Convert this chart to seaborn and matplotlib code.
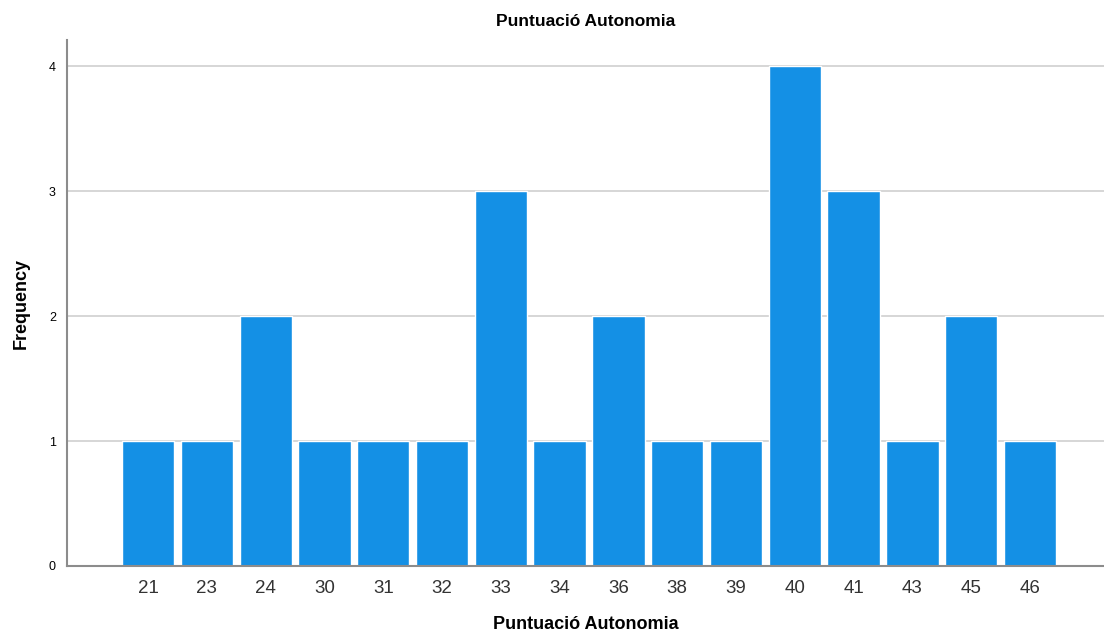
import matplotlib.pyplot as plt
import seaborn as sns
import pandas as pd

scores = ["21", "23", "24", "30", "31", "32", "33", "34", "36", "38", "39", "40", "41", "43", "45", "46"]
freqs = [1, 1, 2, 1, 1, 1, 3, 1, 2, 1, 1, 4, 3, 1, 2, 1]
y_ticks = [0, 1, 2, 3, 4]

sns.set_style("white")
plt.rcParams["font.family"] = ["Liberation Sans", "DejaVu Sans"]
plt.rcParams["text.color"] = "black"
plt.rcParams["axes.labelcolor"] = "black"

df = pd.DataFrame({"score": scores, "freq": freqs})

fig = plt.figure(figsize=(11.04, 6.38), dpi=100)
ax = fig.add_axes([0.0607, 0.1129, 0.9393, 0.8241])

sns.barplot(data=df, x="score", y="freq", order=scores, color="#1490e5",
            saturation=1, width=0.89, edgecolor="white", linewidth=1, ax=ax, zorder=2)

ax.set_xlim(-1.38, 16.26)
ax.set_ylim(0, 4.21)
ax.set_yticks(y_ticks)
ax.yaxis.grid(True, color="#cfcfcf", linewidth=1.2, zorder=0)
ax.set_axisbelow(True)

for side in ["top", "right"]:
    ax.spines[side].set_visible(False)
for side in ["left", "bottom"]:
    ax.spines[side].set_color("#8c8c8c")
    ax.spines[side].set_linewidth(1.5)

ax.tick_params(axis="y", length=0, labelsize=9, labelcolor="black", pad=8)
ax.tick_params(axis="x", length=0, labelsize=13.5, labelcolor="#333333", pad=10)

ax.set_title("Puntuació Autonomia", fontsize=12.5, fontweight="bold", pad=10, color="black")
ax.set_xlabel("Puntuació Autonomia", fontsize=13, fontweight="bold", labelpad=14)
ax.set_ylabel("Frequency", fontsize=13, fontweight="bold", labelpad=14)

fig.savefig("out.png", dpi=100)
